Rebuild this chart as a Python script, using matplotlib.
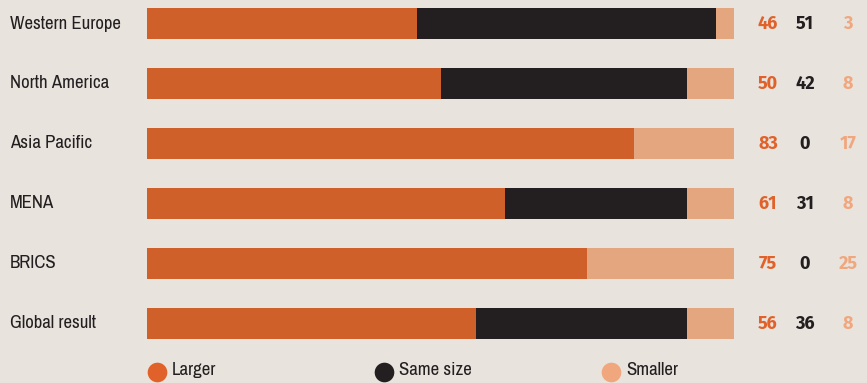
import matplotlib.pyplot as plt
from matplotlib.transforms import blended_transform_factory

regions = ["Western Europe", "North America", "Asia Pacific", "MENA", "BRICS", "Global result"]
larger = [46, 50, 83, 61, 75, 56]
same = [51, 42, 0, 31, 0, 36]
smaller = [3, 8, 17, 8, 25, 8]
legend_labels = ["Larger", "Same size", "Smaller"]

bg = "#e8e3dd"
c_larger = "#d0602a"
c_same = "#231f20"
c_smaller = "#e3a67e"
t_larger = "#e0622a"
t_smaller = "#f0a77e"

plt.rcParams['font.family'] = ['Archivo Narrow', 'DejaVu Sans']
num_font = ['Fira Sans', 'DejaVu Sans']

W, H = 867, 383
fig = plt.figure(figsize=(W / 100, H / 100), dpi=100, facecolor=bg)
ax = fig.add_axes([147 / W, 0, 587 / W, 1])
ax.set_facecolor(bg)
ax.set_xlim(0, 100)
# row i sits at pixel 23.5 + 60*i from the top
ax.set_ylim((H - 23.5) / 60, -23.5 / 60)
ax.axis('off')

ys = list(range(len(regions)))
h = 31 / 60
left2 = [a + b for a, b in zip(larger, same)]
ax.barh(ys, larger, height=h, color=c_larger)
ax.barh(ys, same, left=larger, height=h, color=c_same)
ax.barh(ys, smaller, left=left2, height=h, color=c_smaller)

trans = blended_transform_factory(fig.transFigure, ax.transData)
for i, name in enumerate(regions):
    ax.text(10 / W, i, name, transform=trans, ha='left', va='center',
            fontsize=13.5, color="#231f20")
    for x, val, col in zip([105.8, 112.1, 119.4], [larger[i], same[i], smaller[i]],
                           [t_larger, c_same, t_smaller]):
        ax.text(x, i, str(val), ha='center', va='center', fontsize=13,
                fontweight='bold', family=num_font, color=col, clip_on=False)

# legend row
ly = (372 - 23.5) / 60
for x, lab, col in zip([1.7, 40.4, 79.0], legend_labels, [t_larger, c_same, t_smaller]):
    ax.scatter([x], [ly], s=200, color=col, clip_on=False, zorder=3, linewidths=0)
    ax.text(x + 2.6, (370 - 23.5) / 60, lab, ha='left', va='center', fontsize=13.5,
            color="#231f20", clip_on=False)

fig.savefig("out.png", dpi=100, facecolor=bg)
